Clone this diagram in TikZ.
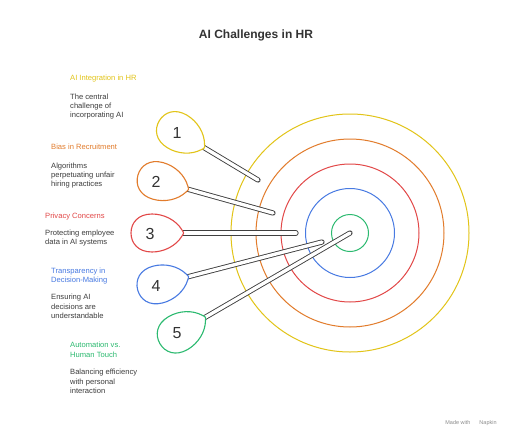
\documentclass[tikz,border=0pt]{standalone}
\usepackage{fontspec}
\setmainfont{Liberation Sans}
\usetikzlibrary{calc}
\definecolor{cyellow}{RGB}{226,196,24}
\definecolor{corange}{RGB}{226,124,44}
\definecolor{cred}{RGB}{226,72,72}
\definecolor{cblue}{RGB}{72,122,226}
\definecolor{cgreen}{RGB}{44,186,112}
\definecolor{textgray}{RGB}{60,60,60}
\tikzstyle{ring} = [line width=1pt]
\tikzstyle{shaft} = [draw=black!75, line width=0.9pt, double=white, double distance=3.4pt, line cap=round]
\tikzstyle{pin} = [line width=1.1pt, fill=white]
\tikzstyle{head} = [anchor=north west, inner sep=0pt, font=\fontsize{7.6}{9.3}\selectfont]
\tikzstyle{desc} = [head, align=left, text=textgray]
\tikzstyle{num} = [font=\fontsize{16}{16}\selectfont, text=black!80]
% teardrop pin: tip point, angle, colour
\newcommand{\pinbulb}[3]{
  \draw[pin, draw=#3, shift={(#1)}, rotate=#2]
    (0,3) .. controls (-6,13) and (-18,19) .. (-30,19)
    .. controls (-44,19) and (-51,10) .. (-51,0)
    .. controls (-51,-10) and (-44,-19) .. (-30,-19)
    .. controls (-18,-19) and (-6,-13) .. (0,-3)
    .. controls (2,0) .. (0,3) -- cycle;
}

\begin{document}
\begin{tikzpicture}[x=1pt, y=-1pt]
  \path[use as bounding box, fill=white] (0,0) rectangle (512,437);

  \node[font=\bfseries\fontsize{12}{14}\selectfont, text=black!80] (title) at (256,35) {AI Challenges in HR};

  % target rings
  \coordinate (c) at (350,233);
  \foreach \r/\col in {119/cyellow, 94/corange, 69/cred, 44.5/cblue, 18.5/cgreen}
    \draw[ring, \col] (c) circle (\r);

  % shaft ends
  \coordinate (b1) at (203,147);  \coordinate (t1) at (258,180);
  \coordinate (b2) at (187,189);  \coordinate (t2) at (273,213);
  \coordinate (b3) at (182,233);  \coordinate (t3) at (296,233);
  \coordinate (b4) at (187,277);  \coordinate (t4) at (322,242);
  \coordinate (b5) at (204,318);  \coordinate (t5) at (350,233);

  \draw[shaft] (b1) -- (t1);
  \draw[shaft] (b2) -- (t2);
  \draw[shaft] (b3) -- (t3);
  \draw[shaft] (b4) -- (t4);
  \draw[shaft] (b5) -- (t5);

  \pinbulb{b1}{-31}{cyellow}
  \pinbulb{b2}{-15.6}{corange}
  \pinbulb{b3}{0}{cred}
  \pinbulb{b4}{14.5}{cblue}
  \pinbulb{b5}{30.2}{cgreen}

  \node[num] (n1) at (177,133) {1};
  \node[num] (n2) at (156,182) {2};
  \node[num] (n3) at (150,234) {3};
  \node[num] (n4) at (156,286) {4};
  \node[num] (n5) at (177,333) {5};

  % labels
  \node[head, text=cyellow] (h1) at (70,75) {AI Integration in HR};
  \node[desc] (d1) at (70,93.3) {The central\\challenge of\\incorporating AI};
  \node[head, text=corange] (h2) at (51,144) {Bias in Recruitment};
  \node[desc] (d2) at (51,162.6) {Algorithms\\perpetuating unfair\\hiring practices};
  \node[head, text=cred] (h3) at (45,212.3) {Privacy Concerns};
  \node[desc] (d3) at (45,229.6) {Protecting employee\\data in AI systems};
  \node[head, align=left, text=cblue] (h4) at (51,267.3) {Transparency in\\Decision-Making};
  \node[desc] (d4) at (51,294) {Ensuring AI\\decisions are\\understandable};
  \node[head, align=left, text=cgreen] (h5) at (70,342) {Automation vs.\\Human Touch};
  \node[desc] (d5) at (70,369) {Balancing efficiency\\with personal\\interaction};

  \node[font=\fontsize{5.5}{6}\selectfont, text=black!45] (credit) at (471,422.7) {Made with \hspace{6pt} Napkin};
\end{tikzpicture}
\end{document}
